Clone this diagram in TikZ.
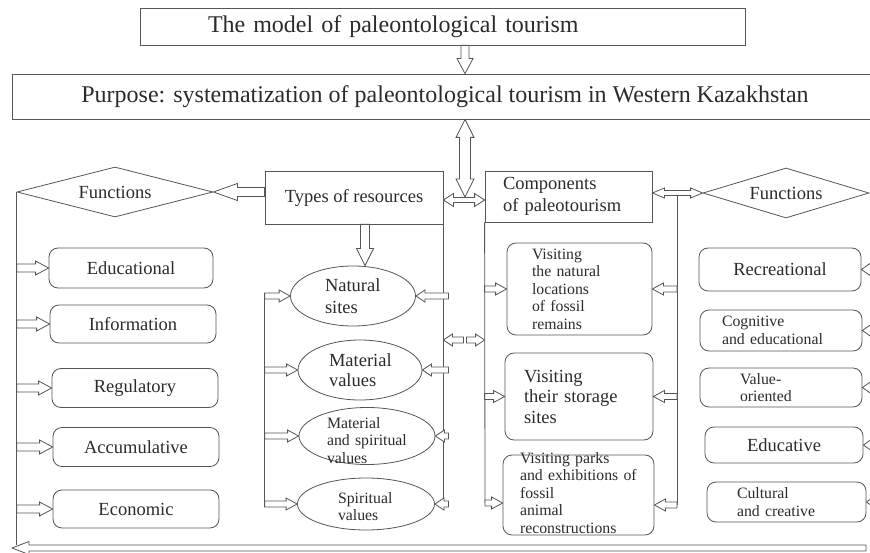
\documentclass[tikz,border=0pt]{standalone}
\usepackage{fontspec}
\setmainfont{Liberation Serif}
\usepackage{xcolor}
\usetikzlibrary{shapes.geometric, calc}

\definecolor{linec}{HTML}{555555}
\definecolor{textc}{HTML}{2B2B2B}

\hyphenpenalty=10000
\newcommand{\fsbig}{\fontsize{24}{28}\selectfont}
\newcommand{\fsmid}{\fontsize{18.5}{22}\selectfont}
\newcommand{\fsmidB}{\fontsize{18.5}{20.5}\selectfont}
\newcommand{\fssmall}{\fontsize{15.8}{17.5}\selectfont}

\tikzset{
  arrw/.store in=\arrw, arrh/.store in=\arrh, arrl/.store in=\arrl,
  arrw=3.5pt, arrh=7pt, arrl=12pt,
  hollow/.style={draw=linec, fill=white, line width=0.8pt},
  harr/.style={hollow, to path={let \p1=(\tikztostart), \p2=(\tikztotarget), \n1={2*(\x2>\x1)-1} in
    (\x1,\y1+\arrw) -- ({\x2-(\n1)*\arrl},\y1+\arrw) -- ({\x2-(\n1)*\arrl},\y1+\arrh) -- (\x2,\y1)
    -- ({\x2-(\n1)*\arrl},\y1-\arrh) -- ({\x2-(\n1)*\arrl},\y1-\arrw) -- (\x1,\y1-\arrw) -- cycle}},
  hharr/.style={hollow, to path={let \p1=(\tikztostart), \p2=(\tikztotarget), \n1={2*(\x2>\x1)-1} in
    (\x1,\y1) -- ({\x1+(\n1)*\arrl},\y1+\arrh) -- ({\x1+(\n1)*\arrl},\y1+\arrw)
    -- ({\x2-(\n1)*\arrl},\y1+\arrw) -- ({\x2-(\n1)*\arrl},\y1+\arrh) -- (\x2,\y1)
    -- ({\x2-(\n1)*\arrl},\y1-\arrh) -- ({\x2-(\n1)*\arrl},\y1-\arrw)
    -- ({\x1+(\n1)*\arrl},\y1-\arrw) -- ({\x1+(\n1)*\arrl},\y1-\arrh) -- cycle}},
  varr/.style={hollow, to path={let \p1=(\tikztostart), \p2=(\tikztotarget), \n1={2*(\y2>\y1)-1} in
    (\x1+\arrw,\y1) -- (\x1+\arrw,{\y2-(\n1)*\arrl}) -- (\x1+\arrh,{\y2-(\n1)*\arrl}) -- (\x1,\y2)
    -- (\x1-\arrh,{\y2-(\n1)*\arrl}) -- (\x1-\arrw,{\y2-(\n1)*\arrl}) -- (\x1-\arrw,\y1) -- cycle}},
  vvarr/.style={hollow, to path={let \p1=(\tikztostart), \p2=(\tikztotarget), \n1={2*(\y2>\y1)-1} in
    (\x1,\y1) -- (\x1+\arrh,{\y1+(\n1)*\arrl}) -- (\x1+\arrw,{\y1+(\n1)*\arrl})
    -- (\x1+\arrw,{\y2-(\n1)*\arrl}) -- (\x1+\arrh,{\y2-(\n1)*\arrl}) -- (\x1,\y2)
    -- (\x1-\arrh,{\y2-(\n1)*\arrl}) -- (\x1-\arrw,{\y2-(\n1)*\arrl})
    -- (\x1-\arrw,{\y1+(\n1)*\arrl}) -- (\x1-\arrh,{\y1+(\n1)*\arrl}) -- cycle}},
}

\begin{document}
\begin{tikzpicture}[x=1pt, y=-1pt, line width=0.8pt,
    box/.style={draw=linec, inner sep=0pt, text=textc},
    rbox/.style={box, rounded corners=9pt},
    oval/.style={box, ellipse, align=left},
    dia/.style={box, diamond, aspect=4, font=\fsmid},
  ]
\useasboundingbox (0,0) rectangle (870,553);
\clip (0,0) rectangle (870,553);

\node[box, minimum width=605pt, minimum height=37pt, text width=469pt, inner xsep=68pt, align=left, font=\fsbig] (model) at (442.5,26.5) {The model of paleontological tourism};
\node[box, minimum width=866pt, minimum height=45pt, font=\fsbig] (purpose) at (445,96.5) {Purpose: systematization of paleontological tourism in Western Kazakhstan};

\node[box, minimum width=178pt, minimum height=53pt, font=\fsmid] (types) at (354,197.5) {Types of resources};
\node[box, minimum width=167pt, minimum height=51pt, text width=131pt, inner xsep=18pt, align=left, font=\fsmid] (comp) at (568.5,196.5) {Components\\of paleotourism};
\node[dia, minimum width=196pt, minimum height=50pt] (lfun) at (115,192) {Functions};
\node[dia, minimum width=166pt, minimum height=50pt] (rfun) at (786,193) {Functions};

\node[rbox, minimum width=164pt, minimum height=40pt, font=\fsmid] (edu) at (131,268) {Educational};
\node[rbox, minimum width=166pt, minimum height=38pt, font=\fsmid] (info) at (133,324) {Information};
\node[rbox, minimum width=166pt, minimum height=39pt, font=\fsmid] (regu) at (135,388) {Regulatory};
\node[rbox, minimum width=166pt, minimum height=39pt, font=\fsmid] (accu) at (136,447) {Accumulative};
\node[rbox, minimum width=166pt, minimum height=38pt, font=\fsmid] (econ) at (136,509) {Economic};

\node[oval, minimum width=125pt, minimum height=60pt, text width=56pt, font=\fsmid] (nat) at (353,296) {Natural\\sites};
\node[oval, minimum width=124pt, minimum height=60pt, text width=62pt, font=\fsmidB] (mat) at (360,370) {Material\\values};
\node[oval, minimum width=136pt, minimum height=57pt, text width=80pt, text height=5pt, text depth=21pt, font=\fssmall] (matsp) at (367,436) {Material\\and spiritual\\values};
\node[oval, minimum width=137pt, minimum height=52pt, text width=56pt, text height=8pt, text depth=10pt, font=\fssmall] (spir) at (366,504) {Spiritual\\values};

\node[rbox, minimum width=145pt, minimum height=92pt, text width=95pt, inner xsep=25pt, align=left, font=\fssmall] (visA) at (579.5,289) {Visiting\\the natural\\locations\\of fossil\\remains};
\node[rbox, minimum width=148pt, minimum height=87pt, text width=110pt, inner xsep=19pt, align=left, font=\fsmidB] (visB) at (579,396.5) {Visiting\\their storage\\sites};
\node[rbox, minimum width=151pt, text width=117pt, inner xsep=17pt, align=left, text height=8pt, text depth=72pt, font=\fssmall] (visC) at (578.5,495) {Visiting parks\\and exhibitions of\\fossil\\animal\\reconstructions};

\node[rbox, minimum width=162pt, minimum height=43pt, font=\fsmid] (recr) at (780,269.5) {Recreational};
\node[rbox, minimum width=162pt, minimum height=41pt, text width=118pt, inner xsep=22pt, align=left, font=\fssmall] (cogn) at (781,330.5) {Cognitive\\and educational};
\node[rbox, minimum width=162pt, minimum height=39pt, text width=82pt, inner xsep=40pt, align=left, font=\fssmall] (valu) at (781,387.5) {Value-\\oriented};
\node[rbox, minimum width=158pt, minimum height=36pt, font=\fsmid] (educ) at (784,445) {Educative};
\node[rbox, minimum width=159pt, minimum height=40pt, text width=99pt, inner xsep=30pt, align=left, font=\fssmall] (cult) at (786.5,502) {Cultural\\and creative};

\coordinate (jn) at (465,200);
\coordinate (pair) at (465,340);
\coordinate (lbot) at (17,545);
\coordinate (bR) at (866,548);
\coordinate (bL) at (12,548);
\coordinate (rb) at (677,193);
\coordinate (cy) at (485,503);
\coordinate (cyR) at (677,505);
\coordinate (rx) at (880,193);

\draw[linec] (lfun.west) -- (lfun.west |- lbot);
\draw[linec] (types.west |- nat.west) -- (types.west |- spir.west);
\draw[linec] (types.south east) -- (types.east |- spir.east);
\draw[linec] (comp.south west) -- (cy);
\draw[linec] (rb) -- (cyR);

\draw[varr, arrw=4pt, arrh=8pt, arrl=15pt] (model.south -| jn) to (purpose.north -| jn);
\draw[vvarr, arrw=5.5pt, arrh=9pt, arrl=18pt] (purpose.south -| jn) to ([yshift=3pt]jn);
\draw[hharr, arrw=2.5pt, arrh=6.5pt, arrl=10pt] (types.east |- jn) to (comp.west |- jn);
\draw[harr, arrw=4.5pt, arrh=8.5pt, arrl=24pt] (types.west |- lfun.east) to (lfun.east);
\draw[hharr, arrw=2.5pt, arrh=5pt, arrl=12pt] (comp.east |- rfun.west) to (rfun.west);
\draw[varr, arrw=4.5pt, arrh=8.5pt, arrl=17pt] ([xshift=11pt]types.south) to ([xshift=11pt]nat.north);
\draw[harr, arrw=3pt, arrh=6.5pt, arrl=17pt] (bR) to (bL);

\foreach \nd in {edu,info,regu,accu,econ}
  \draw[harr, arrw=4pt, arrh=7pt, arrl=13pt] (lfun.west |- \nd.west) to (\nd.west);

\foreach \nd in {nat,mat,matsp,spir} {
  \draw[harr, arrw=3pt, arrh=6pt, arrl=11pt] (types.west |- \nd.west) to (\nd.west);
  \draw[harr, arrw=3pt, arrh=6pt, arrl=9pt] ([xshift=5pt]types.east |- \nd.east) to (\nd.east);
}

\draw[harr, arrw=3pt, arrh=6pt, arrl=9pt] ([xshift=-1.5pt]pair) to (types.east |- pair);
\draw[harr, arrw=3pt, arrh=6pt, arrl=9pt] ([xshift=1.5pt]pair) to (comp.west |- pair);

\draw[harr, arrw=3pt, arrh=6pt, arrl=11pt] (comp.west |- visA.west) to (visA.west);
\draw[harr, arrw=3pt, arrh=6pt, arrl=11pt] (comp.west |- visB.west) to (visB.west);
\draw[harr, arrw=3pt, arrh=6pt, arrl=11pt] (cy) to (visC.west |- cy);
\draw[harr, arrw=3pt, arrh=6pt, arrl=11pt] (rb |- visA.east) to (visA.east);
\draw[harr, arrw=3pt, arrh=6pt, arrl=11pt] (rb |- visB.east) to (visB.east);
\draw[harr, arrw=3pt, arrh=6pt, arrl=11pt] (cyR) to (visC.east |- cyR);

\foreach \nd in {recr,cogn,valu,educ,cult}
  \draw[harr, arrw=3.5pt, arrh=7pt, arrl=10pt] (rx |- \nd.east) to (\nd.east);
\end{tikzpicture}
\end{document}
